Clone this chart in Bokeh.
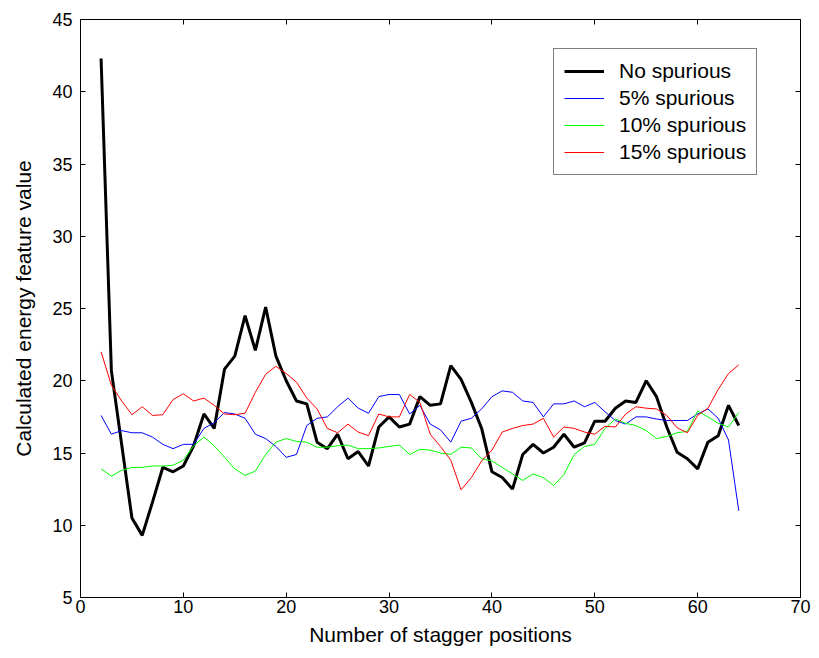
from bokeh.plotting import figure
from bokeh.models import LinearAxis, Range1d, FixedTicker, Legend, LegendItem
from bokeh.embed import file_html
from bokeh.resources import INLINE

x_vals = list(range(2, 65))

no_spurious = [42.3, 20.7, 15.6, 10.5, 9.3, 11.6, 14.0, 13.7, 14.1, 15.5, 17.7, 16.7, 20.8, 21.7,
               24.5, 22.1, 25.1, 21.7, 20.0, 18.6, 18.4, 15.75, 15.3, 16.3, 14.6, 15.1, 14.1, 16.8,
               17.5, 16.8, 17.0, 18.9, 18.3, 18.4, 21.05, 20.1, 18.5, 16.7, 13.7, 13.3, 12.5, 14.9,
               15.6, 15.0, 15.4, 16.3, 15.4, 15.7, 17.2, 17.2, 18.1, 18.6, 18.5, 20.0, 18.9, 16.8,
               15.05, 14.6, 13.9, 15.75, 16.2, 18.3, 16.9]

spurious_5 = [17.6, 16.3, 16.55, 16.4, 16.4, 16.1, 15.6, 15.3, 15.6, 15.6, 16.7, 17.1, 17.8, 17.7,
              17.4, 16.3, 16.0, 15.45, 14.7, 14.9, 16.9, 17.4, 17.5, 18.2, 18.8, 18.1, 17.75, 18.9,
              19.05, 19.05, 17.7, 18.3, 17.0, 16.6, 15.75, 17.2, 17.4, 18.05, 18.9, 19.3, 19.2, 18.6,
              18.5, 17.5, 18.4, 18.4, 18.6, 18.2, 18.5, 17.85, 17.25, 17.0, 17.5, 17.5, 17.35, 17.25,
              17.25, 17.25, 17.7, 18.05, 17.4, 15.9, 11.0]

spurious_10 = [13.9, 13.4, 13.8, 14.0, 14.0, 14.1, 14.1, 14.15, 14.5, 15.5, 16.1, 15.5, 14.7, 13.9,
               13.45, 13.75, 14.9, 15.75, 16.0, 15.8, 15.75, 15.4, 15.4, 15.5, 15.55, 15.3, 15.3,
               15.35, 15.45, 15.55, 14.9, 15.25, 15.2, 15.0, 14.9, 15.4, 15.35, 14.6, 14.45, 14.0,
               13.55, 13.1, 13.55, 13.3, 12.75, 13.5, 14.9, 15.45, 15.6, 16.7, 17.35, 17.05, 16.9,
               16.55, 16.0, 16.15, 16.4, 16.5, 17.9, 17.5, 17.05, 16.8, 17.8]

spurious_15 = [22.0, 19.7, 18.6, 17.65, 18.2, 17.6, 17.65, 18.7, 19.1, 18.6, 18.8, 18.3, 17.7, 17.65,
               17.75, 19.2, 20.45, 21.0, 20.5, 19.9, 18.8, 18.05, 16.7, 16.4, 17.0, 16.45, 16.2, 17.7,
               17.5, 17.5, 19.05, 18.5, 16.3, 15.45, 14.5, 12.45, 13.3, 14.45, 15.2, 16.45, 16.7,
               16.9, 17.0, 17.4, 16.1, 16.8, 16.7, 16.45, 16.3, 16.85, 16.8, 17.7, 18.2, 18.1, 18.05,
               17.6, 16.75, 16.4, 17.6, 18.1, 19.4, 20.5, 21.1]

series_labels = ["No spurious", "5% spurious", "10% spurious", "15% spurious"]
x_ticks = [0, 10, 20, 30, 40, 50, 60, 70]
y_ticks = [5, 10, 15, 20, 25, 30, 35, 40, 45]

FONT = "Liberation Sans"

p = figure(width=819, height=658, output_backend="svg", toolbar_location=None,
           x_range=Range1d(0, 70), y_range=Range1d(5, 45),
           min_border_left=80, min_border_right=19, min_border_top=19, min_border_bottom=61)
p.background_fill_color = "white"
p.border_fill_color = "white"
p.outline_line_color = "black"
p.outline_line_width = 1
p.grid.visible = False

for ax in p.xaxis + p.yaxis:
    ax.major_tick_in = 5
    ax.major_tick_out = 0
    ax.minor_tick_in = 0
    ax.minor_tick_out = 0
    ax.axis_line_color = "black"
    ax.major_tick_line_color = "black"
    ax.major_label_text_font = FONT
    ax.major_label_text_font_size = "18px"
    ax.major_label_text_color = "black"
    ax.axis_label_text_font = FONT
    ax.axis_label_text_font_size = "21px"
    ax.axis_label_text_font_style = "normal"
    ax.axis_label_text_color = "black"

p.xaxis.ticker = FixedTicker(ticks=x_ticks)
p.yaxis.ticker = FixedTicker(ticks=y_ticks)
p.xaxis.axis_label = "Number of stagger positions"
p.yaxis.axis_label = "Calculated energy feature value"
p.xaxis.major_label_standoff = 2
p.yaxis.major_label_standoff = 8
p.xaxis.axis_label_standoff = 7
p.yaxis.axis_label_standoff = 14

for loc, ticks in (("right", y_ticks), ("above", x_ticks)):
    ax = LinearAxis(ticker=FixedTicker(ticks=ticks), major_tick_in=5, major_tick_out=0,
                    minor_tick_in=0, minor_tick_out=0, major_label_text_font_size="0px",
                    axis_line_color="black", major_tick_line_color="black")
    ax.major_label_text_alpha = 0
    p.add_layout(ax, loc)

r0 = p.line(x_vals, no_spurious, line_color="black", line_width=3)
r1 = p.line(x_vals, spurious_5, line_color="#0000ff", line_width=1)
r2 = p.line(x_vals, spurious_10, line_color="#00ff00", line_width=1)
r3 = p.line(x_vals, spurious_15, line_color="#ff0000", line_width=1)

legend = Legend(items=[LegendItem(label=series_labels[0], renderers=[r0]),
                       LegendItem(label=series_labels[1], renderers=[r1]),
                       LegendItem(label=series_labels[2], renderers=[r2]),
                       LegendItem(label=series_labels[3], renderers=[r3])],
                location=(473, 422))
legend.border_line_color = "black"
legend.border_line_width = 1
legend.background_fill_color = "white"
legend.background_fill_alpha = 1
legend.label_text_font = FONT
legend.label_text_font_size = "21px"
legend.label_text_color = "black"
legend.glyph_width = 40
legend.glyph_height = 22
legend.label_height = 22
legend.spacing = 3
legend.padding = 10
legend.margin = 0
legend.label_standoff = 15
p.add_layout(legend, "center")

open("out.html", "w").write(file_html(p, INLINE))
